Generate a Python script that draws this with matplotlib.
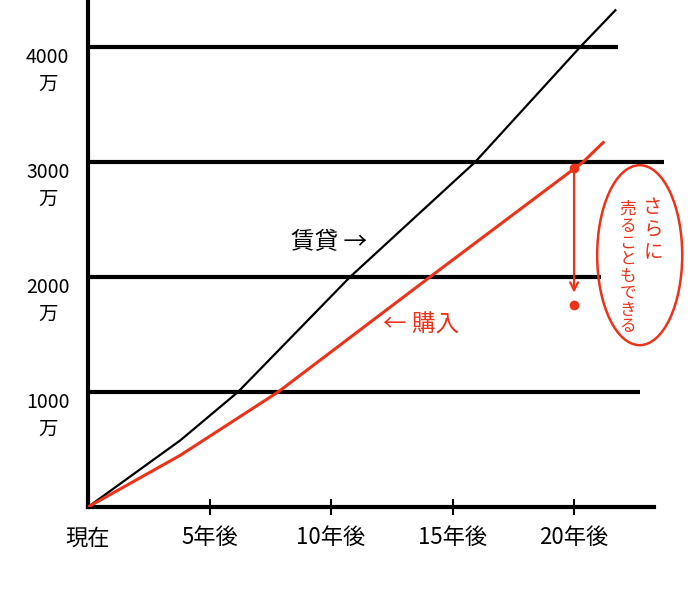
import matplotlib.pyplot as plt
from matplotlib.patches import Ellipse

plt.rcParams['font.family'] = ['Noto Sans CJK JP', 'DejaVu Sans']

# values (years, 万円)
rent_years = [0, 3.8, 6.17, 10.78, 15.93, 20.25, 21.7]
rent_cost = [0, 580, 1000, 2000, 3000, 4000, 4320]
buy_years = [0, 3.8, 7.82, 14.07, 20.37, 21.2]
buy_cost = [0, 450, 1000, 2000, 3000, 3170]
sell_year = 20
sell_from = 2950
sell_value = 1760

x_ticks = [5, 10, 15, 20]
x_labels = ['5年後', '10年後', '15年後', '20年後']
y_levels = [1000, 2000, 3000, 4000]
y_labels = ['1000\n万', '2000\n万', '3000\n万', '4000\n万']
grid_ends = [22.7, 21.1, 23.7, 21.8]

RED = '#ec3219'

fig = plt.figure(figsize=(7, 6.16), dpi=100)
ax = fig.add_axes([88 / 700, 109 / 616, (664 - 88) / 700, 507 / 616])
ax.set_xlim(0, 23.7)
ax.set_ylim(0, 4409)

for lvl, end in zip(y_levels, grid_ends):
    ax.hlines(lvl, 0, end, color='black', lw=3, zorder=1)

ax.plot(rent_years, rent_cost, color='black', lw=1.6, zorder=3)
ax.plot(buy_years, buy_cost, color=RED, lw=2.2, zorder=3)

# selling point and arrow
ax.plot([sell_year], [sell_from], 'o', color=RED, ms=6, zorder=4)
ax.annotate('', xy=(sell_year, sell_value + 80), xytext=(sell_year, sell_from),
            arrowprops=dict(arrowstyle='->', color=RED, lw=1.6, mutation_scale=14))
ax.plot([sell_year], [sell_value], 'o', color=RED, ms=6, zorder=4)

ax.text(9.9, 2300, '賃貸 →', fontsize=17, ha='center', va='center')
ax.text(13.7, 1580, '← 購入', fontsize=17, ha='center', va='center', color=RED)

bubble = Ellipse((22.7, 2190), 3.5, 1565, fill=False, ec=RED, lw=1.8,
                 clip_on=False, zorder=5)
ax.add_patch(bubble)
ax.text(23.25, 2700, '\n'.join('さらに'), fontsize=14, color=RED, ha='center',
        va='top', linespacing=1.1, clip_on=False)
ax.text(22.2, 2660, '\n'.join('売ることもできる'), fontsize=12, color=RED,
        ha='center', va='top', linespacing=0.98, clip_on=False)

for side in ['top', 'right']:
    ax.spines[side].set_visible(False)
ax.spines['left'].set_linewidth(3)
ax.spines['bottom'].set_linewidth(3)
ax.spines['bottom'].set_bounds(0, 23.3)

ax.set_xticks([0] + x_ticks)
ax.set_xticklabels(['現在'] + x_labels, fontsize=16)
ax.tick_params(axis='x', direction='inout', length=12, width=1.5, pad=8)
ax.xaxis.get_major_ticks()[0].tick1line.set_visible(False)

ax.set_yticks(y_levels)
ax.set_yticklabels(y_labels, fontsize=14, linespacing=1.35, va='top', ha='center')
ax.tick_params(axis='y', length=0, pad=29)

fig.savefig('out.png', dpi=100)
